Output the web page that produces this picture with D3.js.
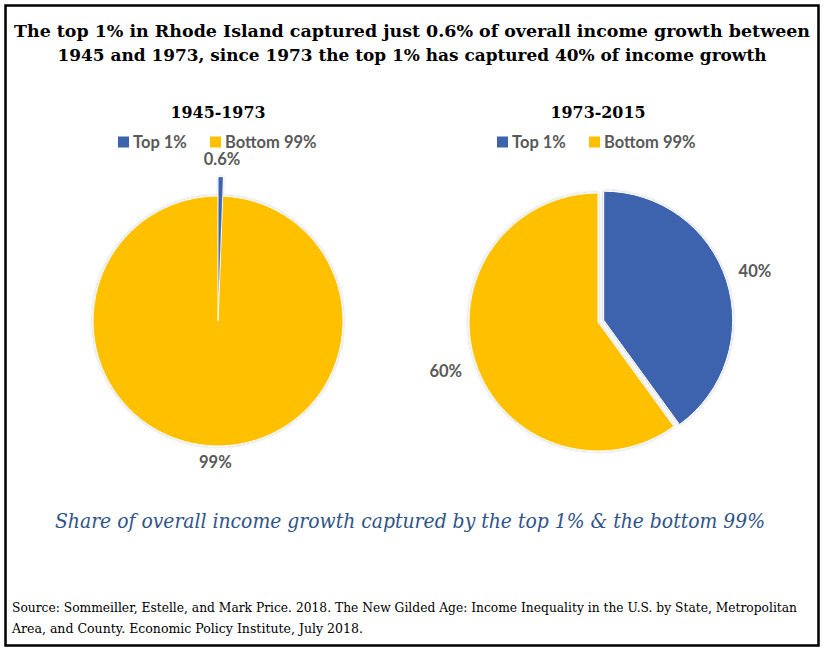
<!DOCTYPE html>
<html>
<head>
<meta charset="utf-8">
<script src="https://cdn.jsdelivr.net/npm/d3@7"></script>
<style>
  html, body { margin: 0; padding: 0; background: #fff; }
  svg { display: block; }
</style>
</head>
<body>
<svg id="chart" width="826" height="651"></svg>
<script>
// ---- data ----
const categories = ["Top 1%", "Bottom 99%"];
const periods = ["1945-1973", "1973-2015"];
const shares1945 = [0.6, 99.4];
const shares1973 = [40, 60];
const labels1945 = ["0.6%", "99%"];
const labels1973 = ["40%", "60%"];
const colors = ["#3C64AE", "#FFC000"];
const titleLines = [
  "The top 1% in Rhode Island captured just 0.6% of overall income growth between",
  "1945 and 1973, since 1973 the top 1% has captured 40% of income growth"
];
const subtitle = "Share of overall income growth captured by the top 1% & the bottom 99%";
const sourceLines = [
  "Source: Sommeiller, Estelle, and Mark Price. 2018. The New Gilded Age: Income Inequality in the U.S. by State, Metropolitan",
  "Area, and County. Economic Policy Institute, July 2018."
];

const svg = d3.select("#chart");

// shadow filter
const defs = svg.append("defs");
const f = defs.append("filter").attr("id", "sh").attr("x", "-10%").attr("y", "-10%").attr("width", "120%").attr("height", "120%");
f.append("feDropShadow").attr("dx", 0).attr("dy", 0).attr("stdDeviation", 1.8)
  .attr("flood-color", "#000").attr("flood-opacity", 0.28);

// border
svg.append("rect").attr("x", 5.5).attr("y", 5.5).attr("width", 813).attr("height", 640)
  .attr("fill", "#fff").attr("stroke", "#000").attr("stroke-width", 2.5);

// title
const titleSpecs = [{x: 412, y: 37, len: 796}, {x: 412, y: 61, len: 709}];
titleLines.forEach((t, i) => {
  svg.append("text").attr("x", titleSpecs[i].x).attr("y", titleSpecs[i].y)
    .attr("text-anchor", "middle")
    .attr("font-family", "'DejaVu Serif', serif").attr("font-weight", "bold")
    .attr("font-size", 17.5).attr("fill", "#000")
    .attr("textLength", titleSpecs[i].len).attr("lengthAdjust", "spacingAndGlyphs")
    .text(t);
});

const pieGen = d3.pie().sort(null).value(d => d);
const color = d3.scaleOrdinal().domain(categories).range(colors);

function drawPie(cfg) {
  const g = svg.append("g");
  // period title
  g.append("text").attr("x", cfg.cx).attr("y", 118).attr("text-anchor", "middle")
    .attr("font-family", "'DejaVu Serif', serif").attr("font-weight", "bold")
    .attr("font-size", 17).attr("textLength", 95).attr("lengthAdjust", "spacingAndGlyphs")
    .attr("fill", "#000").text(cfg.period);

  // legend
  const lg = g.append("g").attr("transform", `translate(${cfg.legendX},0)`);
  const legendOffsets = [0, 92];
  categories.forEach((c, i) => {
    lg.append("rect").attr("x", legendOffsets[i]).attr("y", 136.5).attr("width", 11).attr("height", 11)
      .attr("fill", color(c));
    lg.append("text").attr("x", legendOffsets[i] + 15).attr("y", 148)
      .attr("font-family", "Lato, 'Open Sans', sans-serif").attr("font-weight", "bold")
      .attr("font-size", 16.5).attr("fill", "#595959").text(c);
  });

  const arcs = pieGen(cfg.values);
  const arc = d3.arc().innerRadius(0).outerRadius(cfg.r);
  const pg = g.append("g").attr("transform", `translate(${cfg.cx},${cfg.cy})`)
    .attr("filter", "url(#sh)");
  // draw bottom slice first, then exploded top slice
  const order = [1, 0];
  order.forEach(i => {
    const a = arcs[i];
    const mid = (a.startAngle + a.endAngle) / 2;
    const ex = cfg.explode[i];
    pg.append("path")
      .attr("d", arc(a))
      .attr("transform", `translate(${ex * Math.sin(mid)},${-ex * Math.cos(mid)})`)
      .attr("fill", color(categories[i]))
      .attr("stroke", "#fff").attr("stroke-width", i === 0 && cfg.values[0] < 2 ? 0.3 : 1);
  });
  // labels
  arcs.forEach((a, i) => {
    const mid = (a.startAngle + a.endAngle) / 2;
    const lr = cfg.labelR[i];
    g.append("text")
      .attr("x", cfg.cx + lr * Math.sin(mid) + cfg.labelDx[i])
      .attr("y", cfg.cy - lr * Math.cos(mid) + 6)
      .attr("text-anchor", "middle")
      .attr("font-family", "Lato, 'Open Sans', sans-serif").attr("font-weight", "bold")
      .attr("font-size", 16.5).attr("fill", "#595959")
      .text(cfg.labels[i]);
  });
}

drawPie({
  period: periods[0], cx: 218, cy: 321, r: 125, values: shares1945,
  explode: [19, 0], labels: labels1945, labelR: [162, 141], labelDx: [1, 0], legendX: 118
});
drawPie({
  period: periods[1], cx: 598, cy: 322, r: 129, values: shares1973,
  explode: [6, 0], labels: labels1973, labelR: [165, 160], labelDx: [0, 0], legendX: 497
});

// subtitle
svg.append("text").attr("x", 410).attr("y", 528).attr("text-anchor", "middle")
  .attr("font-family", "'DejaVu Serif', serif").attr("font-style", "italic")
  .attr("font-size", 19.5).attr("fill", "#2F5487")
  .attr("textLength", 710).attr("lengthAdjust", "spacingAndGlyphs")
  .text(subtitle);

// source
const srcSpecs = [{y: 612, len: 785}, {y: 633, len: 351}];
sourceLines.forEach((t, i) => {
  svg.append("text").attr("x", 12).attr("y", srcSpecs[i].y)
    .attr("font-family", "'DejaVu Serif', serif").attr("font-size", 12.4).attr("fill", "#000")
    .attr("textLength", srcSpecs[i].len).attr("lengthAdjust", "spacingAndGlyphs")
    .text(t);
});
</script>
</body>
</html>
